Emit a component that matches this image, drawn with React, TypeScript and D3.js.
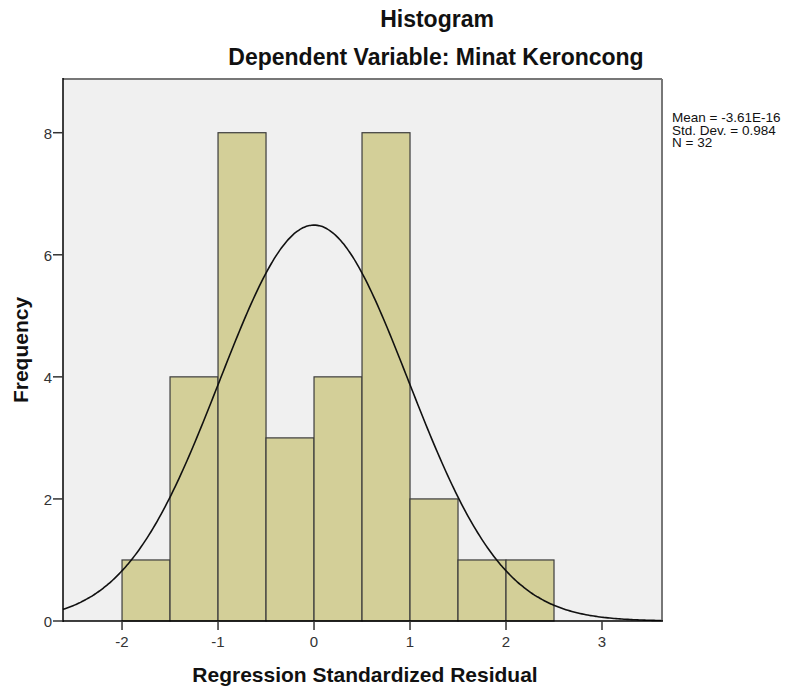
import React from "react";
import * as d3 from "d3";

const binStarts = [-2, -1.5, -1, -0.5, 0, 0.5, 1, 1.5, 2];
const binWidth = 0.5;
const counts = [1, 4, 8, 3, 4, 8, 2, 1, 1];
const xTicks = [-2, -1, 0, 1, 2, 3];
const yTicks = [0, 2, 4, 6, 8];
const statMean = -3.61e-16;
const statSd = 0.984;
const statN = 32;
const statLines = ["Mean = -3.61E-16", "Std. Dev. = 0.984", "N = 32"];

const W = 795;
const H = 691;
const left = 63;
const right = 662;
const top = 79;
const bottom = 621;

export default function App() {
  const x = d3.scaleLinear().domain([-2.615, 3.625]).range([left, right]);
  const y = d3.scaleLinear().domain([0, 8.88]).range([bottom, top]);

  const pdf = (v: number) =>
    (statN * binWidth) / (statSd * Math.sqrt(2 * Math.PI)) *
    Math.exp(-0.5 * ((v - statMean) / statSd) ** 2);
  const xs = d3.range(300).map((i) => -2.615 + (i / 299) * (3.625 + 2.615));
  const line = d3
    .line<number>()
    .x((v) => x(v))
    .y((v) => y(pdf(v)))
    .curve(d3.curveBasis);

  const font = "'Liberation Sans', Arial, sans-serif";
  return (
    <svg
      width={W}
      height={H}
      style={{ position: "absolute", left: 0, top: 0, background: "#fff" }}
      fontFamily={font}
    >
      <rect x={left} y={top} width={right - left} height={bottom - top} fill="#f0f0f0" />
      {counts.map((c, i) => (
        <rect
          key={i}
          x={x(binStarts[i])}
          y={y(c)}
          width={x(binStarts[i] + binWidth) - x(binStarts[i])}
          height={y(0) - y(c)}
          fill="#d3cf98"
          stroke="#3c3c3c"
          strokeWidth={1.2}
        />
      ))}
      <path d={line(xs) || ""} fill="none" stroke="#111" strokeWidth={1.6} />
      {/* frame */}
      <line x1={left} x2={right} y1={top} y2={top} stroke="#777" strokeWidth={2} />
      <line x1={right} x2={right} y1={top} y2={bottom} stroke="#777" strokeWidth={2} />
      <line x1={left} x2={left} y1={top - 1} y2={bottom + 1} stroke="#000" strokeWidth={1.5} />
      <line x1={left - 1} x2={right + 1} y1={bottom} y2={bottom} stroke="#000" strokeWidth={1.5} />
      {yTicks.map((t) => (
        <g key={t}>
          <line x1={left - 10} x2={left} y1={y(t)} y2={y(t)} stroke="#333" strokeWidth={1.5} />
          <text x={left - 11} y={y(t) + 6} textAnchor="end" fontSize={15} fill="#333">
            {t}
          </text>
        </g>
      ))}
      {xTicks.map((t) => (
        <g key={t}>
          <line x1={x(t)} x2={x(t)} y1={bottom} y2={bottom + 9} stroke="#333" strokeWidth={1.5} />
          <text x={x(t)} y={bottom + 26} textAnchor="middle" fontSize={15} fill="#333">
            {t}
          </text>
        </g>
      ))}
      <text x={437} y={27} textAnchor="middle" fontSize={23} fontWeight="bold" fill="#111">
        Histogram
      </text>
      <text x={436} y={65} textAnchor="middle" fontSize={23} fontWeight="bold" fill="#111">
        Dependent Variable: Minat Keroncong
      </text>
      <text x={365} y={682} textAnchor="middle" fontSize={21} fontWeight="bold" fill="#111">
        Regression Standardized Residual
      </text>
      <text
        transform={`translate(28,${350}) rotate(-90)`}
        textAnchor="middle"
        fontSize={21}
        fontWeight="bold"
        fill="#111"
      >
        Frequency
      </text>
      {statLines.map((s, i) => (
        <text key={i} x={672} y={122 + i * 12.5} fontSize={13.5} fill="#111">
          {s}
        </text>
      ))}
    </svg>
  );
}
